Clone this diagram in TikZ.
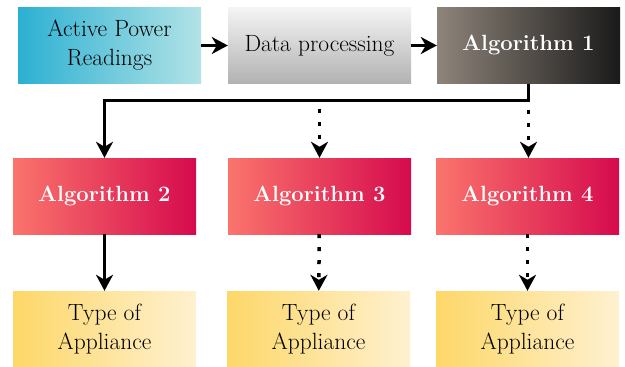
\documentclass[tikz,border=0pt]{standalone}
\usepackage{fontspec}
\setmainfont{Latin Modern Roman}
\usetikzlibrary{arrows.meta}
\definecolor{cyanL}{HTML}{2CB0D2}
\definecolor{cyanR}{HTML}{B2E3E6}
\definecolor{grayT}{HTML}{F4F4F4}
\definecolor{grayB}{HTML}{B2B2B2}
\definecolor{darkL}{HTML}{8E847A}
\definecolor{darkR}{HTML}{1A1A1A}
\definecolor{redL}{HTML}{FA746C}
\definecolor{redR}{HTML}{D60A4E}
\definecolor{yelL}{HTML}{FDD768}
\definecolor{yelR}{HTML}{FEF1D0}
\tikzset{
  box/.style={rectangle, minimum width=183pt, minimum height=76pt, inner sep=0pt, align=center,
    font=\rmfamily\fontsize{23.5}{29}\selectfont},
  boldbox/.style={box, text=white, font=\rmfamily\fontsize{22}{29}\selectfont\bfseries},
  solidarrow/.style={line width=3.5pt, -{Stealth[length=16pt,width=17pt,inset=5pt]}},
  dotarrow/.style={line width=3.5pt, dash pattern=on 4pt off 9pt, -{Stealth[length=16pt,width=17pt,inset=5pt]}},
}
\begin{document}
\begin{tikzpicture}[x=1pt,y=-1pt]
\useasboundingbox (0,0) rectangle (625,367);
\node[box, left color=cyanL, right color=cyanR] (apr) at (109.5,45.5) {Active Power\\Readings};
\node[box, top color=grayT, bottom color=grayB] (dp) at (319.5,45.5) {Data processing};
\node[boldbox, left color=darkL, right color=darkR] (a1) at (528.5,45.5) {Algorithm 1};
\node[boldbox, left color=redL, right color=redR] (a2) at (104.5,196) {Algorithm 2};
\node[boldbox, left color=redL, right color=redR] (a3) at (319.5,196) {Algorithm 3};
\node[boldbox, left color=redL, right color=redR] (a4) at (527.5,196) {Algorithm 4};
\node[box, left color=yelL, right color=yelR] (t2) at (104.5,329) {Type of\\Appliance};
\node[box, left color=yelL, right color=yelR] (t3) at (318.5,329) {Type of\\Appliance};
\node[box, left color=yelL, right color=yelR] (t4) at (527.5,329) {Type of\\Appliance};
\draw[solidarrow] (apr) -- (dp);
\draw[solidarrow] (dp) -- (a1);
\draw[dotarrow] (a1.south) -- ++(0,17) -| (a3.north);
\draw[dotarrow] (a1.south) -- (a1.south |- a4.north);
\draw[solidarrow] (a1.south) -- ++(0,17) -| (a2.north);
\draw[solidarrow] (a2) -- (t2);
\draw[dotarrow] (a3) -- (t3);
\draw[dotarrow] (a4) -- (t4);
\end{tikzpicture}
\end{document}
